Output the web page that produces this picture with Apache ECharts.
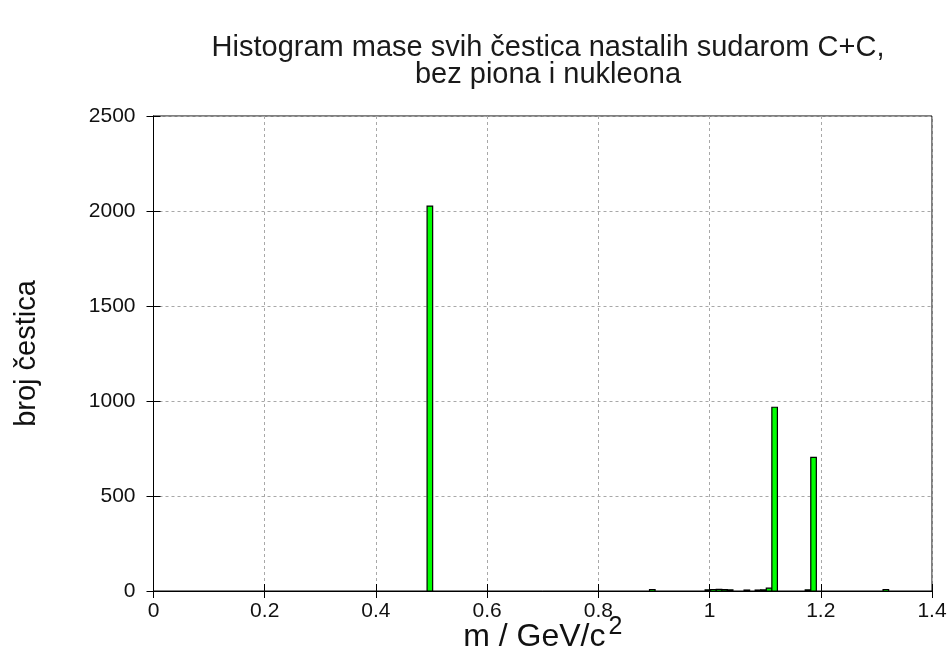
<!DOCTYPE html>
<html>
<head>
<meta charset="utf-8">
<script src="https://cdn.jsdelivr.net/npm/echarts@6/dist/echarts.min.js"></script>
<style>html,body{margin:0;padding:0;background:#fff;overflow:hidden}#c{width:951px;height:671px}</style>
</head>
<body>
<div id="c"></div>
<script>
// Histogram data: bin start (GeV/c^2) and count
const binStart = [0.492, 0.892, 0.992, 1.002, 1.012, 1.022, 1.032, 1.062, 1.082, 1.092, 1.102, 1.112, 1.172, 1.182, 1.312];
const counts   = [2026,  8,     6,     8,     9,     7,     6,     5,     5,     6,     15,    967,   6,     703,   8];
const binWidth = 0.01;
const xTicks = [0, 0.2, 0.4, 0.6, 0.8, 1, 1.2, 1.4];
const yTicks = [0, 500, 1000, 1500, 2000, 2500];
const titleLines = ['Histogram mase svih čestica nastalih sudarom C+C,', 'bez piona i nukleona'];

const data = binStart.map((b, i) => [b, b + binWidth, counts[i]]);
const font = 'Liberation Sans, Arial, sans-serif';
const chart = echarts.init(document.getElementById('c'));
const gridLine = {show: true, lineStyle: {color: '#a8a8a8', type: [3, 3], width: 1}};
chart.setOption({
  animation: false,
  title: {
    text: titleLines.join('\n'),
    left: 543, top: 29, textAlign: 'center',
    textStyle: {fontFamily: font, fontSize: 29, fontWeight: 'normal', color: '#1a1a1a', lineHeight: 27}
  },
  grid: {left: 153.5, right: 19, top: 116, bottom: 80, show: true, borderColor: '#000', borderWidth: 1},
  xAxis: [{
    type: 'value', min: xTicks[0], max: xTicks[xTicks.length - 1], interval: 0.2,
    name: '{a|m / GeV/c}{s|2}', nameLocation: 'middle', nameGap: 24, nameMoveOverlap: false,
    nameTextStyle: {rich: {a: {fontFamily: font, fontSize: 32, color: '#111'}, s: {fontFamily: font, fontSize: 25, color: '#111', verticalAlign: 'bottom', padding: [0, 0, 20, 3]}}},
    axisLine: {show: true, lineStyle: {color: '#000'}},
    axisTick: {show: true, inside: true, length: 7, lineStyle: {color: '#000'}},
    axisLabel: {fontFamily: font, fontSize: 21, color: '#111', margin: 10},
    splitLine: gridLine
  }, {
    type: 'value', position: 'top', min: xTicks[0], max: xTicks[xTicks.length - 1], interval: 0.2,
    axisLine: {show: true, lineStyle: {color: '#000'}},
    axisTick: {show: true, inside: true, length: 7, lineStyle: {color: '#000'}},
    axisLabel: {show: false}, splitLine: {show: false}
  }],
  yAxis: [{
    type: 'value', min: yTicks[0], max: yTicks[yTicks.length - 1], interval: 500,
    name: 'broj čestica', nameLocation: 'middle', nameGap: 112, nameMoveOverlap: false,
    nameTextStyle: {fontFamily: font, fontSize: 29, color: '#111'},
    axisLine: {show: true, lineStyle: {color: '#000'}},
    axisTick: {show: true, inside: true, length: 7, lineStyle: {color: '#000'}},
    axisLabel: {fontFamily: font, fontSize: 21, color: '#111', margin: 18, formatter: v => String(v)},
    splitLine: gridLine
  }, {
    type: 'value', position: 'right', min: yTicks[0], max: yTicks[yTicks.length - 1], interval: 500,
    axisLine: {show: true, lineStyle: {color: '#000'}},
    axisTick: {show: true, inside: true, length: 7, lineStyle: {color: '#000'}},
    axisLabel: {show: false}, splitLine: {show: false}
  }],
  series: [{
    type: 'custom',
    xAxisIndex: 0, yAxisIndex: 0,
    data: data,
    encode: {x: [0, 1], y: 2},
    renderItem: function (params, api) {
      const p0 = api.coord([api.value(0), api.value(2)]);
      const p1 = api.coord([api.value(1), 0]);
      return {
        type: 'rect',
        shape: {x: p0[0], y: p0[1], width: p1[0] - p0[0], height: p1[1] - p0[1]},
        style: {fill: '#00ff00', stroke: '#000', lineWidth: 1.2}
      };
    }
  }]
});
</script>
</body>
</html>
